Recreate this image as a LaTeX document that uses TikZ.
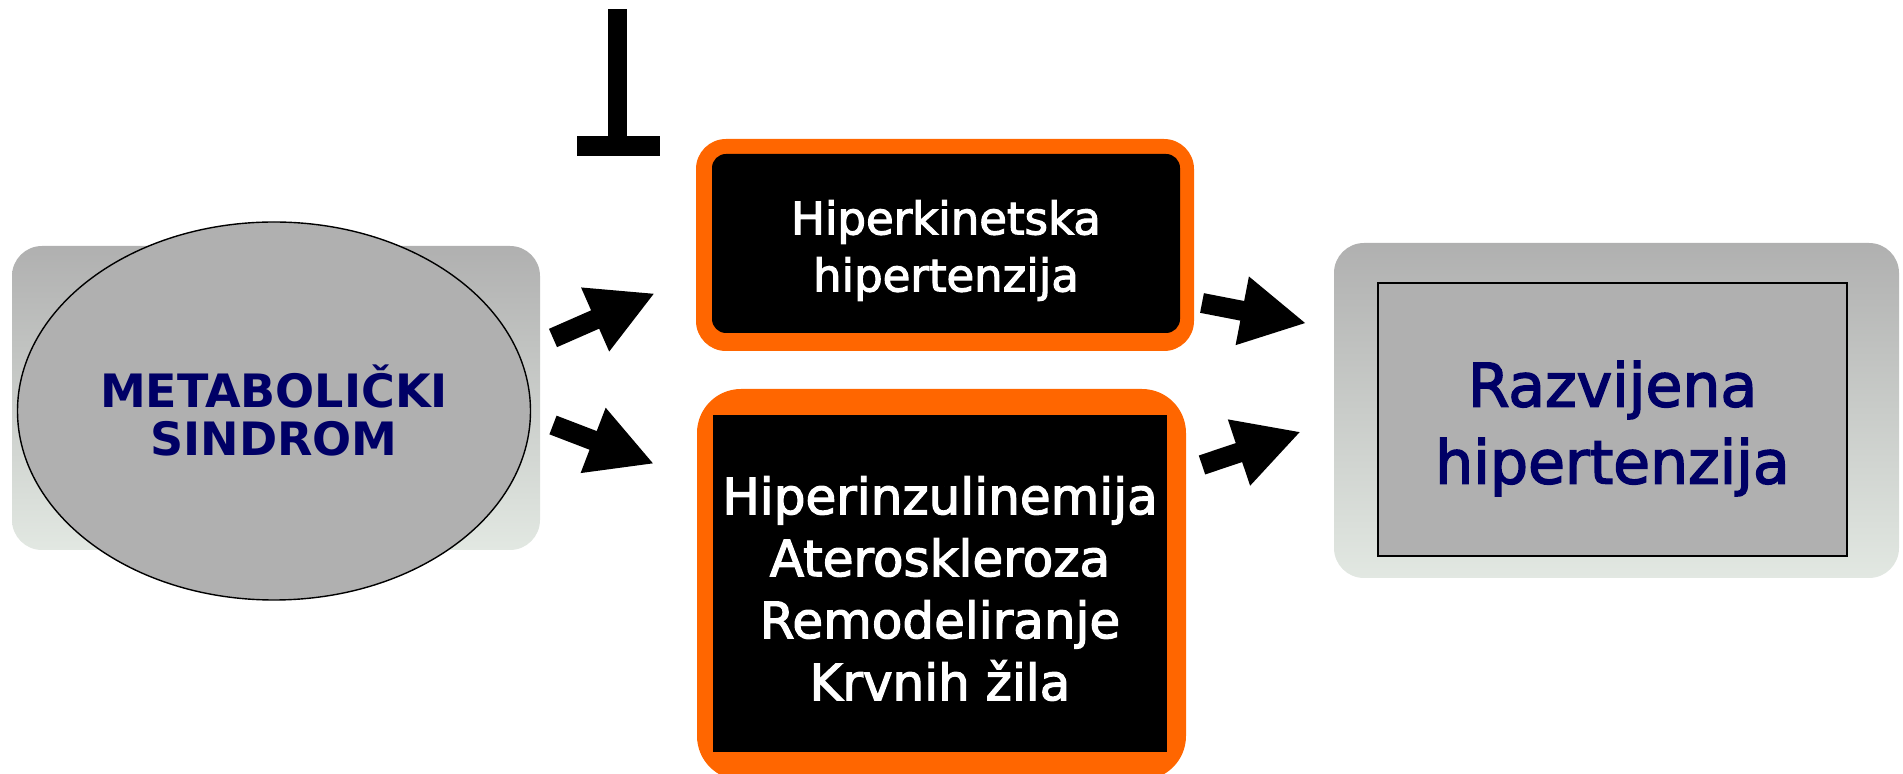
\documentclass[tikz,border=0pt]{standalone}
\usepackage{fontspec}
\setmainfont{DejaVu Sans}
\newfontfamily\comicish[FakeBold=2.5]{DejaVu Sans}
\usetikzlibrary{shapes.geometric}
\definecolor{navy}{HTML}{000066}
\definecolor{orng}{HTML}{FF6600}
\definecolor{gry}{HTML}{B0B0B0}
\definecolor{lightbg}{HTML}{E2E8E2}
\tikzset{
  bgpanel/.style={rounded corners=15pt, top color=gry, middle color=gry!90!lightbg, bottom color=lightbg},
  orangeframe/.style={fill=orng},
  blackbox/.style={fill=black, inner sep=0pt},
  whitetext/.style={text=white, align=center, inner sep=0pt},
  blockarrow/.style={fill=black},
}
\newcommand\blkarr[3]{%
  \begin{scope}[shift={(#1)}, rotate=#2]
    \fill[blockarrow] (0,-10) -- ({#3-64},-10) -- ({#3-64},-35) -- (#3,0) -- ({#3-64},35) -- ({#3-64},10) -- (0,10) -- cycle;
  \end{scope}}
\begin{document}
\begin{tikzpicture}[x=0.5pt,y=-0.5pt]
\useasboundingbox (0,0) rectangle (1903,774);
% background panels
\shade[bgpanel] (12,246) rectangle (540,550);
\shade[bgpanel] (1334,243) rectangle (1899,578);
% metabolic syndrome ellipse
\node[ellipse, draw=black, line width=0.7pt, fill=gry, inner sep=0pt,
      minimum width=256.5pt, minimum height=189pt, align=center,
      font=\bfseries\fontsize{23pt}{24pt}\selectfont, text=navy]
      (ms) at (274,411) {METABOLIČKI\\SINDROM};
% inhibition bar
\fill (608,9) rectangle (627,137);
\fill (577,136) rectangle (660,156);
% top box
\fill[orangeframe, rounded corners=15pt] (696,139) rectangle (1194,351);
\node[blackbox, rounded corners=7pt, minimum width=234pt, minimum height=89.5pt] (hk) at (946,243.5) {};
\node[whitetext, font=\comicish\fontsize{22.5pt}{28.5pt}\selectfont] (hkt) at ([yshift=-3.5pt]hk.center) {Hiperkinetska\\hipertenzija};
% bottom box
\fill[orangeframe, rounded corners=22pt] (697,389) rectangle (1186,780);
\node[blackbox, minimum width=227pt, minimum height=168.5pt] (hi) at (940,583.5) {};
\node[whitetext, font=\comicish\fontsize{25pt}{31pt}\selectfont] (hit) at ([yshift=-2.5pt]hi.center)
      {Hiperinzulinemija\\Ateroskleroza\\Remodeliranje\\Krvnih žila};
% result box
\node[draw=black, line width=0.8pt, fill=gry, minimum width=234.5pt, minimum height=136.5pt, inner sep=0pt]
      (rh) at (1612.5,419.5) {};
\node[align=center, text=navy, inner sep=0pt, font=\comicish\fontsize{30pt}{38.5pt}\selectfont]
      (rht) at ([yshift=-4.5pt]rh.center) {Razvijena\\hipertenzija};
% block arrows
\coordinate (a1) at (553,338);
\coordinate (a2) at (553,425);
\coordinate (a3) at (1202,303);
\coordinate (a4) at (1202,465);
\blkarr{a1}{23.7}{110}
\blkarr{a2}{-21}{107}
\blkarr{a3}{-11}{105}
\blkarr{a4}{18.6}{103}
\end{tikzpicture}
\end{document}
